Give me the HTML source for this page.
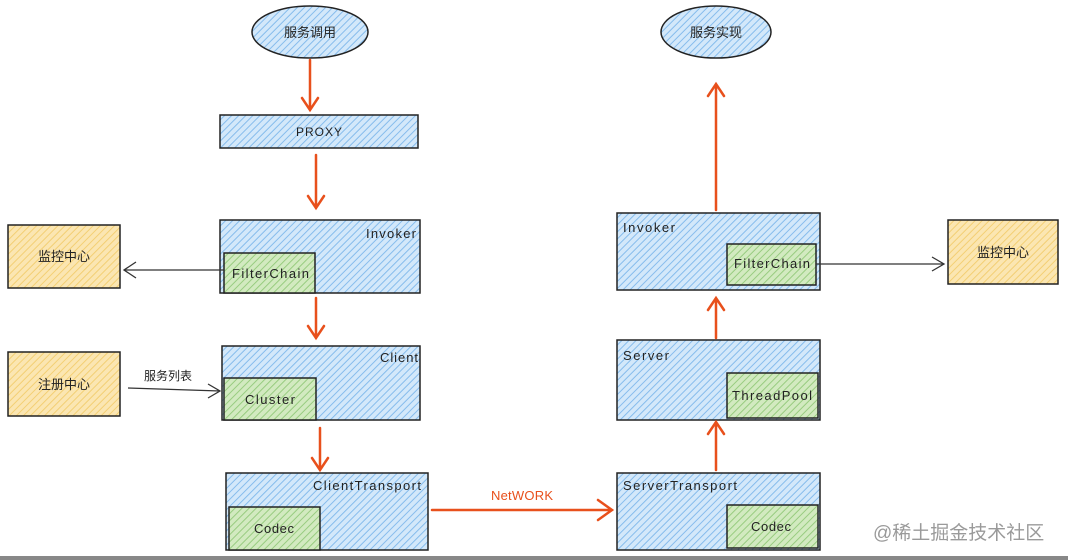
<!DOCTYPE html>
<html><head><meta charset="utf-8"><style>
html,body{margin:0;padding:0;background:#fff;width:1068px;height:560px;overflow:hidden}
svg{display:block}
text{font-family:"Liberation Sans","Noto Sans CJK SC",sans-serif;font-size:13px;fill:#222}
</style></head><body>
<svg width="1068" height="560" viewBox="0 0 1068 560">
<defs>
<pattern id="hb" width="5" height="5" patternUnits="userSpaceOnUse" patternTransform="rotate(45)">
<rect width="5" height="5" fill="#d3e8fa"/><line x1="0" y1="0" x2="0" y2="5" stroke="#86bcec" stroke-width="2"/></pattern>
<pattern id="hg" width="5" height="5" patternUnits="userSpaceOnUse" patternTransform="rotate(45)">
<rect width="5" height="5" fill="#d2eac0"/><line x1="0" y1="0" x2="0" y2="5" stroke="#98cc80" stroke-width="2"/></pattern>
<pattern id="hy" width="5" height="5" patternUnits="userSpaceOnUse" patternTransform="rotate(45)">
<rect width="5" height="5" fill="#fbe6b2"/><line x1="0" y1="0" x2="0" y2="5" stroke="#f3cf74" stroke-width="2"/></pattern>
</defs>
<g stroke="#222" stroke-width="1.5">
<ellipse cx="310" cy="32" rx="58" ry="26" fill="url(#hb)"/>
<ellipse cx="716" cy="32" rx="55" ry="26" fill="url(#hb)"/>
<rect x="220" y="115" width="198" height="33" fill="url(#hb)"/>
<rect x="220" y="220" width="200" height="73" fill="url(#hb)"/>
<rect x="224" y="253" width="91" height="40" fill="url(#hg)"/>
<rect x="8" y="225" width="112" height="63" fill="url(#hy)"/>
<rect x="222" y="346" width="198" height="74" fill="url(#hb)"/>
<rect x="224" y="378" width="92" height="42" fill="url(#hg)"/>
<rect x="8" y="352" width="112" height="64" fill="url(#hy)"/>
<rect x="226" y="473" width="202" height="77" fill="url(#hb)"/>
<rect x="229" y="507" width="91" height="43" fill="url(#hg)"/>
<rect x="617" y="473" width="203" height="77" fill="url(#hb)"/>
<rect x="727" y="505" width="91" height="43" fill="url(#hg)"/>
<rect x="617" y="340" width="203" height="80" fill="url(#hb)"/>
<rect x="727" y="373" width="91" height="45" fill="url(#hg)"/>
<rect x="617" y="213" width="203" height="77" fill="url(#hb)"/>
<rect x="727" y="244" width="89" height="41" fill="url(#hg)"/>
<rect x="948" y="220" width="110" height="64" fill="url(#hy)"/>
</g>
<g stroke="#e8501c" stroke-width="2.5" fill="none" stroke-linecap="round">
<path d="M310 60V110M302 98L310 110L318 98"/>
<path d="M316 155V208M308 196L316 208L324 196"/>
<path d="M316 298V338M308 326L316 338L324 326"/>
<path d="M320 428V470M312 458L320 470L328 458"/>
<path d="M432 510H612M598 500L612 510L598 520"/>
<path d="M716 470V422M708 434L716 422L724 434"/>
<path d="M716 338V298M708 310L716 298L724 310"/>
<path d="M716 210V84M708 96L716 84L724 96"/>
</g>
<g stroke="#333" stroke-width="1.3" fill="none">
<path d="M224 270H124M136 262L124 270L136 278"/>
<path d="M128 388L220 391M208 384L220 391L208 398"/>
<path d="M816 264H944M932 257L944 264L932 271"/>
</g>
<text x="310" y="37" text-anchor="middle">服务调用</text>
<text x="716" y="37" text-anchor="middle">服务实现</text>
<text x="296" y="136" style="font-size:12px" textLength="46">PROXY</text>
<text x="366" y="238" textLength="50">Invoker</text>
<text x="232" y="278" textLength="77">FilterChain</text>
<text x="64" y="261" text-anchor="middle">监控中心</text>
<text x="380" y="362" textLength="38">Client</text>
<text x="245" y="404" textLength="50">Cluster</text>
<text x="64" y="389" text-anchor="middle">注册中心</text>
<text x="168" y="380" text-anchor="middle" style="font-size:12px">服务列表</text>
<text x="313" y="490" textLength="108">ClientTransport</text>
<text x="254" y="533" textLength="40">Codec</text>
<text x="491" y="500" textLength="62" style="fill:#e8501c">NetWORK</text>
<text x="623" y="490" textLength="114">ServerTransport</text>
<text x="751" y="531" textLength="40">Codec</text>
<text x="623" y="360" textLength="46">Server</text>
<text x="732" y="400" textLength="80">ThreadPool</text>
<text x="623" y="232" textLength="52">Invoker</text>
<text x="734" y="268" textLength="76">FilterChain</text>
<text x="1003" y="257" text-anchor="middle">监控中心</text>
<text x="873" y="539" style="font-size:19px;fill:#9a9a9a">@稀土掘金技术社区</text>
<rect x="0" y="556" width="1068" height="4" fill="#888"/>
</svg>
</body></html>
